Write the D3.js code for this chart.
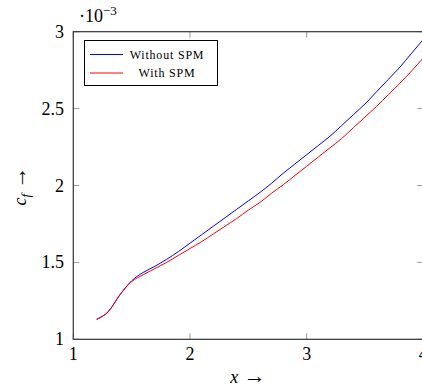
<!DOCTYPE html>
<html>
<head>
<meta charset="utf-8">
<script src="https://cdn.jsdelivr.net/npm/d3@7"></script>
<style>
  body { margin: 0; background: #fff; }
  svg { display: block; font-family: "Liberation Serif", "DejaVu Serif", serif; }
</style>
</head>
<body>
<svg id="chart" width="422" height="390"></svg>
<script>
// skin friction coefficient, values in units of 1e-3
var xs = [1.2, 1.3, 1.4, 1.5, 1.6, 1.7, 1.8, 1.9, 2.0, 2.1, 2.2, 2.3, 2.4, 2.5, 2.6,
          2.7, 2.8, 2.9, 3.0, 3.1, 3.2, 3.3, 3.4, 3.5, 3.6, 3.7, 3.8, 3.9, 4.0];
var withoutSPM = [1.13, 1.18, 1.29, 1.38, 1.435, 1.475, 1.52, 1.57, 1.625, 1.68, 1.735, 1.79, 1.845, 1.90, 1.955,
                  2.015, 2.08, 2.14, 2.20, 2.26, 2.32, 2.39, 2.46, 2.53, 2.61, 2.69, 2.77, 2.86, 2.95];
var withSPM = [1.13, 1.18, 1.29, 1.375, 1.42, 1.46, 1.50, 1.545, 1.59, 1.635, 1.685, 1.735, 1.785, 1.84, 1.89,
               1.95, 2.005, 2.065, 2.125, 2.185, 2.245, 2.305, 2.375, 2.445, 2.515, 2.59, 2.665, 2.745, 2.83];
var xTicks = [1, 2, 3, 4];
var yTicks = [1, 1.5, 2, 2.5, 3];
var seriesNames = ["Without SPM", "With SPM"];
var seriesColors = ["#0000ff", "#ff0000"];

var svg = d3.select("#chart");
var plotLeft = 73.3, plotRight = 423.3, plotTop = 31.7, plotBottom = 339.3;

var x = d3.scaleLinear().domain([1, 4]).range([plotLeft, plotRight]);
var y = d3.scaleLinear().domain([1, 3]).range([plotBottom, plotTop]);

var tickLen = 6;
var tickColor = "#9a9a9a";

// ticks (inward, mirrored on all sides)
var ticks = svg.append("g").attr("stroke", tickColor).attr("stroke-width", 1);
xTicks.forEach(function (t) {
    ticks.append("line").attr("x1", x(t)).attr("x2", x(t)).attr("y1", plotBottom).attr("y2", plotBottom - tickLen);
    ticks.append("line").attr("x1", x(t)).attr("x2", x(t)).attr("y1", plotTop).attr("y2", plotTop + tickLen);
});
yTicks.forEach(function (t) {
    ticks.append("line").attr("x1", plotLeft).attr("x2", plotLeft + tickLen).attr("y1", y(t)).attr("y2", y(t));
    ticks.append("line").attr("x1", plotRight).attr("x2", plotRight - tickLen).attr("y1", y(t)).attr("y2", y(t));
});

// curves
var series = [withoutSPM, withSPM];
var line = d3.line()
    .curve(d3.curveMonotoneX)
    .x(function (d, i) { return x(xs[i]); })
    .y(function (d) { return y(d); });

series.forEach(function (s, i) {
    svg.append("path")
        .datum(s)
        .attr("d", line)
        .attr("fill", "none")
        .attr("stroke", seriesColors[i])
        .attr("stroke-width", 1);
});

// frame
svg.append("rect")
    .attr("x", plotLeft).attr("y", plotTop)
    .attr("width", plotRight - plotLeft).attr("height", plotBottom - plotTop)
    .attr("fill", "none")
    .attr("stroke", "#333")
    .attr("stroke-width", 1.2);

// tick labels
svg.append("g").selectAll("text")
    .data(xTicks).enter().append("text")
    .attr("x", function (d) { return x(d); })
    .attr("y", 360)
    .attr("text-anchor", "middle")
    .attr("font-size", 18)
    .text(function (d) { return d; });

svg.append("g").selectAll("text")
    .data(yTicks).enter().append("text")
    .attr("x", 64)
    .attr("y", function (d) { return y(d) + 6; })
    .attr("text-anchor", "end")
    .attr("font-size", 18)
    .text(function (d) { return d; });

// scale factor
var sf = svg.append("text").attr("x", 79).attr("y", 22).attr("font-size", 18);
sf.append("tspan").text("\u00b710");
sf.append("tspan").attr("dy", -7).attr("font-size", 13).text("\u22123");

// axis labels
var xl = svg.append("text").attr("x", 248).attr("y", 383)
    .attr("text-anchor", "middle").attr("font-size", 18);
xl.append("tspan").attr("font-style", "italic").text("x");
xl.append("tspan").attr("font-size", 22).text(" \u2192");

var yl = svg.append("text")
    .attr("transform", "translate(26,186) rotate(-90)")
    .attr("text-anchor", "middle").attr("font-size", 18);
yl.append("tspan").attr("font-style", "italic").text("c");
yl.append("tspan").attr("font-style", "italic").attr("font-size", 13).attr("dy", 4).text("f");
yl.append("tspan").attr("dy", -4).attr("font-size", 22).text(" \u2192");

// legend
var lg = svg.append("g");
lg.append("rect")
    .attr("x", 84.5).attr("y", 40.5).attr("width", 133).attr("height", 45)
    .attr("fill", "#fff").attr("stroke", "#000").attr("stroke-width", 1);
seriesNames.forEach(function (name, i) {
    var ly = 54.5 + i * 18.5;
    lg.append("line")
        .attr("x1", 90).attr("x2", 123).attr("y1", ly).attr("y2", ly)
        .attr("stroke", seriesColors[i]).attr("stroke-width", 1);
    lg.append("text")
        .attr("x", 167).attr("y", ly + 4)
        .attr("text-anchor", "middle")
        .attr("font-size", 12)
        .attr("letter-spacing", 0.8)
        .text(name);
});
</script>
</body>
</html>
